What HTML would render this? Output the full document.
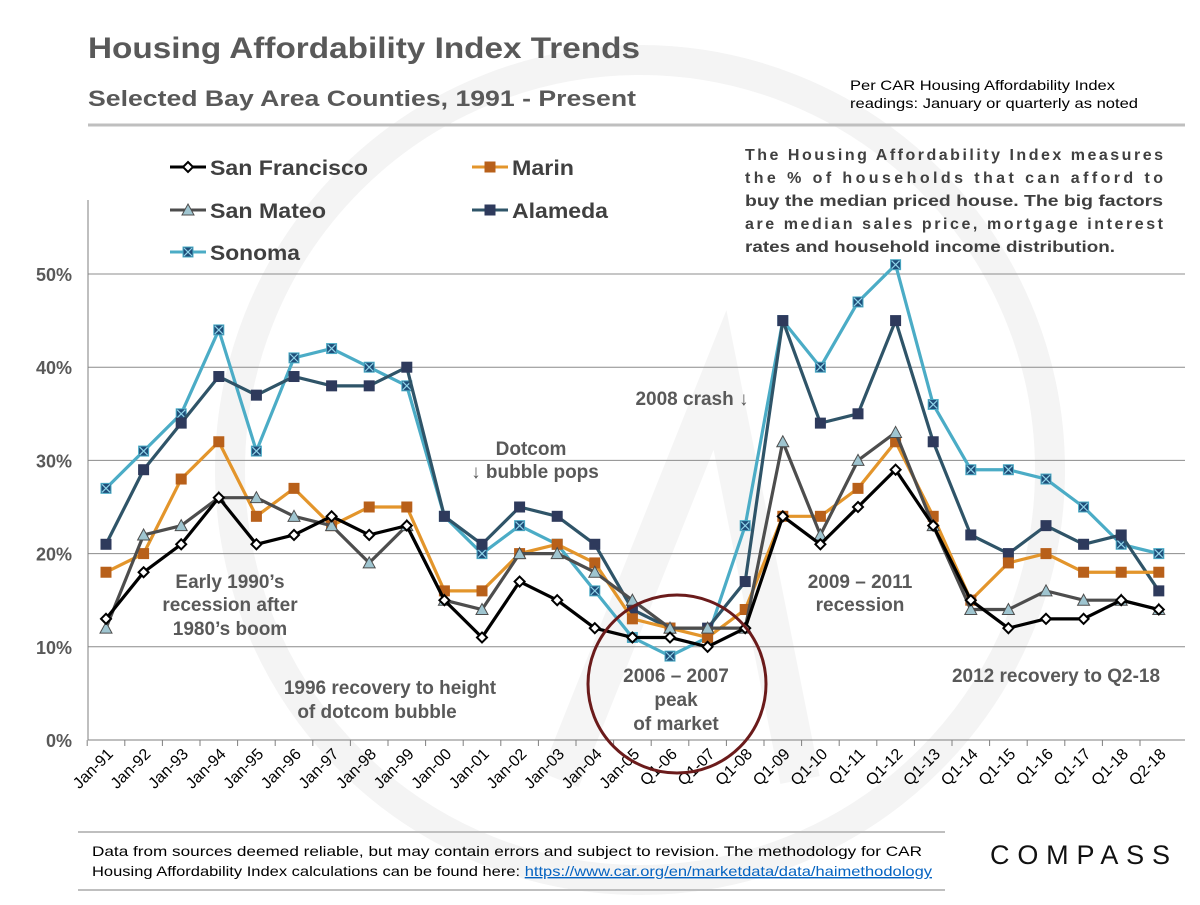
<!DOCTYPE html>
<html><head><meta charset="utf-8"><style>
body{margin:0;background:#fff;}
svg text{font-family:"Liberation Sans",Arial,sans-serif;}
</style></head><body>
<svg id="s" width="1200" height="900" viewBox="0 0 1200 900" xmlns="http://www.w3.org/2000/svg">
<rect width="1200" height="900" fill="#fff"/>
<circle cx="640" cy="470" r="410" fill="none" stroke="#f4f4f4" stroke-width="30"/>
<path d="M560 780 L720 380 L800 780" fill="none" stroke="#f5f5f5" stroke-width="40"/>
<text x="88" y="58" font-size="30" font-weight="bold" fill="#595959" textLength="552" lengthAdjust="spacingAndGlyphs">Housing Affordability Index Trends</text>
<text x="88" y="106" font-size="22" font-weight="bold" fill="#595959" textLength="548" lengthAdjust="spacingAndGlyphs">Selected Bay Area Counties, 1991 - Present</text>
<text x="850" y="90" font-size="14" fill="#000" textLength="265" lengthAdjust="spacingAndGlyphs">Per CAR Housing Affordability Index</text>
<text x="850" y="108" font-size="14" fill="#000" textLength="288" lengthAdjust="spacingAndGlyphs">readings: January or quarterly as noted</text>
<line x1="88" y1="125" x2="1185" y2="125" stroke="#bfbfbf" stroke-width="3"/>
<g font-size="16" font-weight="bold" fill="#404040">
<text x="745" y="160" textLength="418">The Housing Affordability Index measures</text>
<text x="745" y="183" textLength="418">the % of households that can afford to</text>
<text x="745" y="206" textLength="418" lengthAdjust="spacingAndGlyphs">buy the median priced house. The big factors</text>
<text x="745" y="229" textLength="418">are median sales price, mortgage interest</text>
<text x="745" y="252" textLength="370" lengthAdjust="spacingAndGlyphs">rates and household income distribution.</text>
</g>
<g id="grid"></g>
<g id="series"></g>
<g font-size="19" font-weight="bold" fill="#595959" text-anchor="middle">
<text x="230" y="588">Early 1990’s</text><text x="230" y="611">recession after</text><text x="230" y="635">1980’s boom</text>
<text x="390" y="694">1996 recovery to height</text><text x="377" y="718">of dotcom bubble</text>
<text x="531" y="455">Dotcom</text><text x="535" y="478">↓ bubble pops</text>
<text x="692" y="405">2008 crash ↓</text>
<text x="860" y="588">2009 – 2011</text><text x="860" y="611">recession</text>
<text x="1056" y="682">2012 recovery  to Q2-18</text>
<text x="676" y="682">2006 – 2007</text><text x="676" y="706">peak</text><text x="676" y="730">of market</text>
</g>
<circle cx="677" cy="684" r="89" fill="none" stroke="#6b1b1b" stroke-width="3"/>
<g id="legend" font-size="21" font-weight="bold" fill="#404040"></g>
<line x1="78" y1="832" x2="945" y2="832" stroke="#bfbfbf" stroke-width="2"/>
<text x="92" y="856" font-size="14" fill="#000" textLength="830" lengthAdjust="spacingAndGlyphs">Data from sources deemed reliable, but may contain errors and subject to revision. The methodology for CAR</text>
<text x="92" y="876" font-size="14" fill="#000" textLength="840" lengthAdjust="spacingAndGlyphs">Housing Affordability Index calculations can be found here: <tspan fill="#0563c1" text-decoration="underline">https://www.car.org/en/marketdata/data/haimethodology</tspan></text>
<text x="990" y="864" font-size="27" fill="#111" textLength="180">COMPASS</text>
<line x1="78" y1="890" x2="945" y2="890" stroke="#bfbfbf" stroke-width="2"/>
</svg>
<script>
const NS="http://www.w3.org/2000/svg",s=document.getElementById('s');
function el(p,t,a,txt){const e=document.createElementNS(NS,t);for(const k in a)e.setAttribute(k,a[k]);if(txt!=null)e.textContent=txt;p.appendChild(e);return e;}
const g=document.getElementById('grid'),ser=document.getElementById('series'),lg=document.getElementById('legend');
const Y=v=>740-v*9.32,X=i=>106+37.6*i;
for(let v=0;v<=50;v+=10){el(g,'line',{x1:88,x2:1185,y1:Y(v),y2:Y(v),stroke:v?'#8c8c8c':'#7f7f7f','stroke-width':1});
el(g,'text',{x:72,y:Y(v)+7,'font-size':18,'font-weight':'bold',fill:'#595959','text-anchor':'end'},v+'%');}
el(g,'line',{x1:88,x2:88,y1:200,y2:740,stroke:'#7f7f7f'});
const labs=[];for(let y=91;y<=99;y++)labs.push('Jan-'+y);for(let y=0;y<=5;y++)labs.push('Jan-0'+y);
labs.push('Q1-06','Q1-07');for(let y=8;y<=18;y++)labs.push('Q1-'+(y<10?'0'+y:y));labs.push('Q2-18');
labs.forEach((l,i)=>{el(g,'line',{x1:X(i)-18.8,x2:X(i)-18.8,y1:740,y2:746,stroke:'#7f7f7f'});
el(g,'text',{transform:`translate(${X(i)+8},755) rotate(-45)`,'font-size':16,fill:'#000','text-anchor':'end'},l);});
const D={
sonoma:[27,31,35,44,31,41,42,40,38,24,20,23,21,16,11,9,11,23,45,40,47,51,36,29,29,28,25,21,20],
alameda:[21,29,34,39,37,39,38,38,40,24,21,25,24,21,14,12,12,17,45,34,35,45,32,22,20,23,21,22,16],
marin:[18,20,28,32,24,27,23,25,25,16,16,20,21,19,13,12,11,14,24,24,27,32,24,15,19,20,18,18,18],
mateo:[12,22,23,26,26,24,23,19,23,15,14,20,20,18,15,12,12,12,32,22,30,33,23,14,14,16,15,15,14],
sf:[13,18,21,26,21,22,24,22,23,15,11,17,15,12,11,11,10,12,24,21,25,29,23,15,12,13,13,15,14]};
const st={sonoma:['#4bacc6','sq','#1f4e79'],alameda:['#2f5468','sq','#2e3a5c'],marin:['#e3952b','sq','#b8601a'],mateo:['#4d4d4d','tri','#9fc5d0'],sf:['#000','dia','#fff']};
function mark(p,k,x,y){const [c,t,f]=st[k];
if(t=='sq'){el(p,'rect',{x:x-5,y:y-5,width:10,height:10,fill:f,stroke:k=='sonoma'?'#4bacc6':f,'stroke-width':1});
 if(k=='sonoma'){el(p,'path',{d:`M${x-4} ${y-4}L${x+4} ${y+4}M${x+4} ${y-4}L${x-4} ${y+4}`,stroke:'#8fd3e8','stroke-width':1.2});}}
else if(t=='tri')el(p,'path',{d:`M${x} ${y-6}L${x+6} ${y+5}L${x-6} ${y+5}Z`,fill:f,stroke:'#4d4d4d','stroke-width':1});
else el(p,'path',{d:`M${x} ${y-5}L${x+5} ${y}L${x} ${y+5}L${x-5} ${y}Z`,fill:'#fff',stroke:'#000','stroke-width':2});}
for(const k of ['sonoma','alameda','marin','mateo','sf']){const pts=D[k].map((v,i)=>X(i)+','+Y(v)).join(' ');
el(ser,'polyline',{points:pts,fill:'none',stroke:st[k][0],'stroke-width':3.2,'stroke-linejoin':'round'});
D[k].forEach((v,i)=>mark(ser,k,X(i),Y(v)));}
[['sf',170,167,'San Francisco',158],['marin',472,167,'Marin',62],['mateo',170,210,'San Mateo',116],['alameda',472,210,'Alameda',96],['sonoma',170,252,'Sonoma',90]].forEach(([k,x,y,n,w])=>{
el(lg,'line',{x1:x,x2:x+36,y1:y,y2:y,stroke:st[k][0],'stroke-width':3});mark(lg,k,x+18,y);
el(lg,'text',{x:x+40,y:y+8,textLength:w,lengthAdjust:'spacingAndGlyphs'},n);});
</script>
</body></html>
